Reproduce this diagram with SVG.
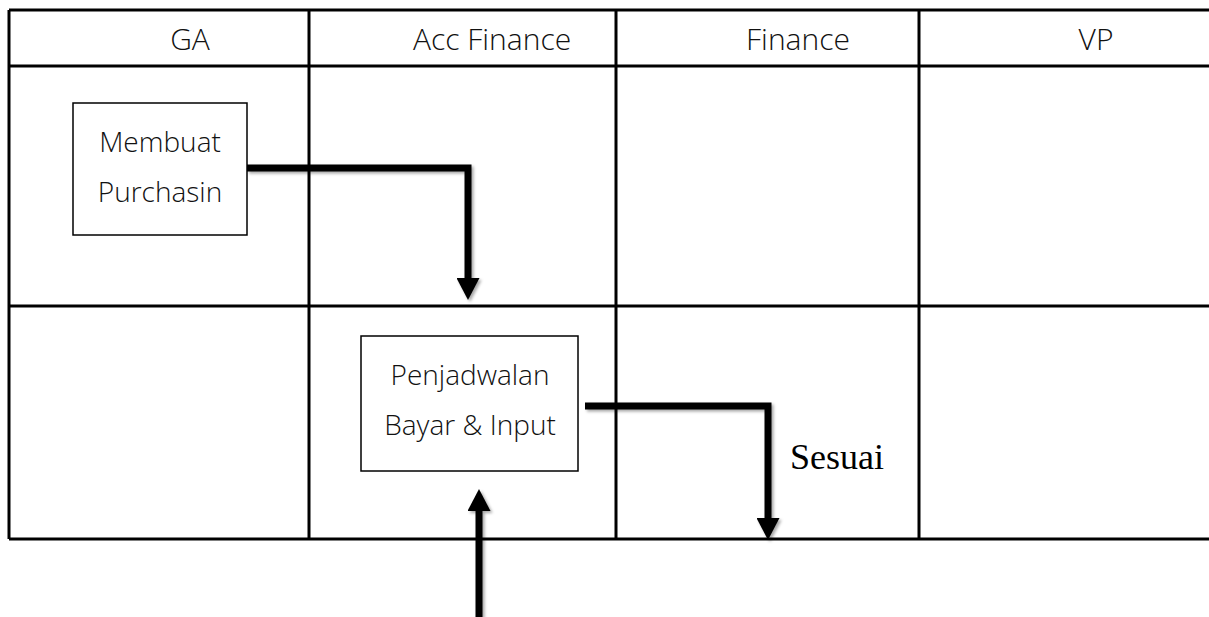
<svg xmlns="http://www.w3.org/2000/svg" width="1209" height="617" viewBox="0 0 1209 617">
  <style>
    .grid { stroke: #000; stroke-width: 3; fill: none; }
    .box { fill: #fff; stroke: #000; stroke-width: 1.5; }
    .hdr { font-family: "Open Sans", "Noto Sans", "Liberation Sans", sans-serif; font-weight: 300; font-size: 30px; fill: #111; text-anchor: middle; }
    .lbl { font-family: "Open Sans", "Noto Sans", "Liberation Sans", sans-serif; font-weight: 300; font-size: 28px; fill: #111; text-anchor: middle; }
    .cond { font-family: "Liberation Serif", "Times New Roman", serif; font-size: 36px; fill: #000; }
    .conn { stroke: #000; stroke-width: 7; fill: none; stroke-linejoin: miter; stroke-linecap: butt; marker-end: url(#head); filter: url(#shadow); }
  </style>
  <defs>
    <marker id="head" markerUnits="userSpaceOnUse" viewBox="0 0 22 23" refX="0" refY="11.5" markerWidth="22" markerHeight="23" orient="auto">
      <path d="M0,0 L22,11.5 L0,23 Z" fill="#000"/>
    </marker>
    <filter id="shadow" filterUnits="userSpaceOnUse" x="0" y="0" width="1209" height="617">
      <feDropShadow dx="2" dy="2" stdDeviation="1.5" flood-color="#000" flood-opacity="0.35"/>
    </filter>
  </defs>
  <rect width="1209" height="617" fill="#fff"/>
  <g id="table">
    <path class="grid" d="M9,10 H1209 M9,66 H1209 M9,306 H1209 M9,539 H1209 M9,10 V539 M309,10 V539 M616,10 V539 M919,10 V539"/>
    <text class="hdr" x="190" y="50">GA</text>
    <text class="hdr" x="492" y="50">Acc Finance</text>
    <text class="hdr" x="798" y="50">Finance</text>
    <text class="hdr" x="1096" y="50">VP</text>
  </g>
  <g id="node-membuat">
    <rect class="box" x="73" y="103" width="174" height="132"/>
    <text class="lbl" x="160" y="152">Membuat</text>
    <text class="lbl" x="160" y="202">Purchasin</text>
  </g>
  <g id="node-penjadwalan">
    <rect class="box" x="361" y="336" width="217" height="135"/>
    <text class="lbl" x="470" y="385">Penjadwalan</text>
    <text class="lbl" x="470" y="435">Bayar &amp; Input</text>
  </g>
  <g id="connectors">
    <path class="conn" d="M247,168 H468 V278"/>
    <path class="conn" d="M585,406 H768 V518"/>
    <path class="conn" d="M479,617 V511"/>
    <text class="cond" x="790" y="469">Sesuai</text>
  </g>
</svg>
